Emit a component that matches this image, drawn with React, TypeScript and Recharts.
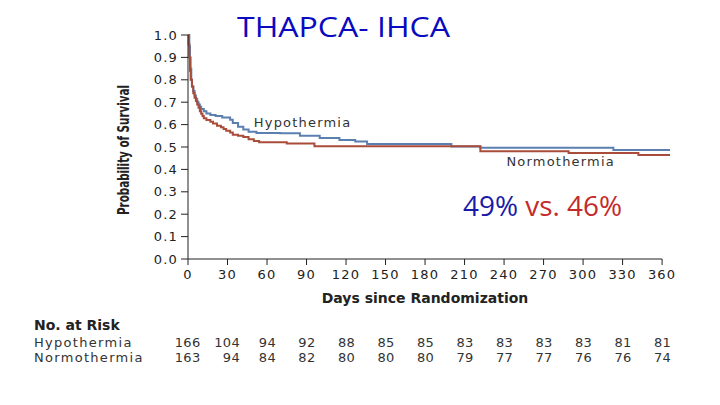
import { Line, LineChart, ReferenceDot, ReferenceLine, XAxis, YAxis } from "recharts";

// Kaplan-Meier steps
const hypoDays = [0, 1, 1.5, 2, 2.5, 3, 4, 5, 6, 7, 8, 9, 10, 12, 14, 17, 21, 26, 32, 34, 38, 42, 46, 52, 70, 85, 100, 115, 127, 136, 200, 222, 323, 366];
const hypoSurvival = [1, 0.95, 0.9, 0.85, 0.8, 0.77, 0.75, 0.73, 0.715, 0.7, 0.69, 0.68, 0.67, 0.66, 0.65, 0.643, 0.638, 0.632, 0.622, 0.607, 0.59, 0.578, 0.568, 0.563, 0.561, 0.55, 0.54, 0.531, 0.525, 0.513, 0.502, 0.497, 0.487, 0.487];

const normoDays = [0, 0.5, 1, 1.5, 2, 3, 4, 5, 6, 7, 8, 9, 10, 11, 12, 14, 17, 19, 22, 25, 27, 29, 32, 34, 38, 42, 46, 50, 54, 75, 96, 222, 289, 342, 366];
const normoSurvival = [1, 0.96, 0.9, 0.84, 0.8, 0.77, 0.74, 0.72, 0.705, 0.69, 0.675, 0.66, 0.648, 0.638, 0.628, 0.62, 0.613, 0.605, 0.595, 0.588, 0.58, 0.573, 0.565, 0.555, 0.55, 0.545, 0.535, 0.527, 0.521, 0.516, 0.503, 0.481, 0.473, 0.464, 0.464];

const riskDays = [0, 30, 60, 90, 120, 150, 180, 210, 240, 270, 300, 330, 360];
const hypoRisk = [166, 104, 94, 92, 88, 85, 85, 83, 83, 83, 83, 81, 81];
const normoRisk = [163, 94, 84, 82, 80, 80, 80, 79, 77, 77, 76, 76, 74];

const yTicks = [0, 0.1, 0.2, 0.3, 0.4, 0.5, 0.6, 0.7, 0.8, 0.9, 1.0];

const hypoData = hypoDays.map((day, i) => ({ day, s: hypoSurvival[i] }));
const normoData = normoDays.map((day, i) => ({ day, s: normoSurvival[i] }));

const BLUE = "#5b7fae";
const RED = "#a94c3a";
const INK = "#222";
const FONT = "'DejaVu Sans', Verdana, sans-serif";

function DayTick(props: any) {
  const { x, y, payload, index } = props;
  const nx = x + (index < 2 ? 12.5 : 9);
  const common = { fontFamily: FONT, fontSize: 13, fill: "#333", letterSpacing: 0.3 };
  return (
    <g>
      <text x={x} y={y + 12} textAnchor="middle" fontFamily={FONT} fontSize={13} fill={INK} letterSpacing={1.2}>
        {payload.value}
      </text>
      <text x={nx} y={y + 80} textAnchor="end" {...common}>
        {hypoRisk[index]}
      </text>
      <text x={nx} y={y + 95} textAnchor="end" {...common}>
        {normoRisk[index]}
      </text>
    </g>
  );
}

function curveLabel(text: string) {
  return (p: any) => (
    <text x={p.cx} y={p.cy} textAnchor="middle" fontFamily={FONT} fontSize={13} fill="#333" letterSpacing={1.2}>
      {text}
    </text>
  );
}

export default function App() {
  return (
    <div style={{ position: "absolute", left: 0, top: 0, width: 720, height: 405, background: "#fff" }}>
      <LineChart width={720} height={405} margin={{ top: 35, right: 50, bottom: 116, left: 100 }}>
        <XAxis
          type="number"
          dataKey="day"
          domain={[0, 366]}
          ticks={riskDays}
          interval={0}
          height={30}
          tickSize={6}
          axisLine={false}
          tickLine={{ stroke: INK }}
          tick={<DayTick />}
        />
        <YAxis
          type="number"
          domain={[0, 1]}
          ticks={yTicks}
          interval={0}
          width={88}
          tickSize={7}
          tickMargin={3}
          tickFormatter={(v: number) => v.toFixed(1)}
          axisLine={{ stroke: INK }}
          tickLine={{ stroke: INK }}
          tick={{ fontFamily: FONT, fontSize: 13, fill: INK, letterSpacing: 1.2 }}
        />
        <ReferenceLine segment={[{ x: 0, y: 0 }, { x: 360, y: 0 }]} stroke={INK} />
        <Line data={hypoData} dataKey="s" type="stepAfter" stroke={BLUE} strokeWidth={2} dot={false} isAnimationActive={false} />
        <Line data={normoData} dataKey="s" type="stepAfter" stroke={RED} strokeWidth={2} dot={false} isAnimationActive={false} />
        <ReferenceDot x={87} y={0.591} r={0} shape={curveLabel("Hypothermia")} />
        <ReferenceDot x={283} y={0.415} r={0} shape={curveLabel("Normothermia")} />
      </LineChart>
      <svg width={720} height={405} style={{ position: "absolute", left: 0, top: 0, pointerEvents: "none" }}>
        <text
          x={237}
          y={37}
          fontFamily="'Open Sans', sans-serif"
          fontSize={27}
          textLength={213}
          lengthAdjust="spacingAndGlyphs"
          fill="#0a0ac0"
        >
          THAPCA- IHCA
        </text>
        <text x={463} y={216} fontFamily="'Open Sans', sans-serif" fontSize={27} textLength={159} lengthAdjust="spacingAndGlyphs">
          <tspan fill="#1a1aa8">49%</tspan>
          <tspan fill="#c42a2a"> vs. 46%</tspan>
        </text>
        <text
          transform="translate(128.5,150) rotate(-90)"
          textAnchor="middle"
          fontFamily="'Liberation Sans Narrow', 'DejaVu Sans Condensed', sans-serif"
          fontWeight="bold"
          fontSize={16}
          textLength={130}
          lengthAdjust="spacingAndGlyphs"
          fill={INK}
        >
          Probability of Survival
        </text>
        <text x={425} y={303} textAnchor="middle" fontFamily={FONT} fontWeight="bold" fontSize={14} fill={INK}>
          Days since Randomization
        </text>
        <text x={34} y={330} fontFamily={FONT} fontWeight="bold" fontSize={14} fill={INK}>
          No. at Risk
        </text>
        <text x={34} y={347} fontFamily={FONT} fontSize={13} fill="#333" letterSpacing={1.3}>
          Hypothermia
        </text>
        <text x={34} y={362} fontFamily={FONT} fontSize={13} fill="#333" letterSpacing={1.3}>
          Normothermia
        </text>
      </svg>
    </div>
  );
}
